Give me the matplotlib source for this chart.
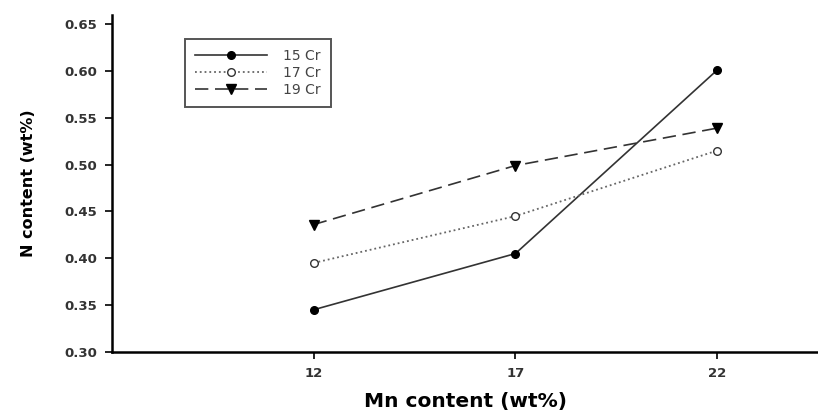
import matplotlib.pyplot as plt

# Mn content on x, N content for each Cr level
mn = [12, 17, 22]
cr15 = [0.345, 0.405, 0.601]
cr17 = [0.395, 0.445, 0.515]
cr19 = [0.436, 0.499, 0.539]
series_labels = ['15 Cr', '17 Cr', '19 Cr']
y_ticks = [0.30, 0.35, 0.40, 0.45, 0.50, 0.55, 0.60, 0.65]

fig = plt.figure(figsize=(8.18, 4.12), dpi=100)
ax = fig.add_axes([0.137, 0.146, 0.863, 0.818])

ax.plot(mn, cr15, '-', color='#333333', lw=1.2, marker='o', ms=5.5,
        mfc='black', mec='black', label=series_labels[0])
ax.plot(mn, cr17, ':', color='#666666', lw=1.3, marker='o', ms=5.5,
        mfc='white', mec='#333333', label=series_labels[1])
ax.plot(mn, cr19, '--', color='#333333', lw=1.2, dashes=(8, 4), marker='v', ms=6.5,
        mfc='black', mec='black', label=series_labels[2])

ax.set_xlim(7.0, 24.5)
ax.set_ylim(0.30, 0.66)
ax.set_xticks(mn)
ax.set_yticks(y_ticks)
ax.set_yticklabels(['%.2f' % v for v in y_ticks])

for side in ['top', 'right']:
    ax.spines[side].set_visible(False)
ax.spines['left'].set_linewidth(1.8)
ax.spines['bottom'].set_linewidth(1.8)
ax.tick_params(direction='out', length=5, width=1.2, labelsize=9.5, pad=6)
for t in ax.get_xticklabels() + ax.get_yticklabels():
    t.set_fontweight('bold')
    t.set_color('#333333')

ax.set_xlabel('Mn content (wt%)', fontsize=14.5, fontweight='bold', va='center')
ax.set_ylabel('N content (wt%)', fontsize=11.5, fontweight='bold', va='center')
ax.xaxis.set_label_coords(0.501, -0.148)
ax.yaxis.set_label_coords(-0.119, 0.5)

leg = ax.legend(loc='upper left', bbox_to_anchor=(0.103, 0.929), fontsize=10,
                fancybox=False, edgecolor='#555555', framealpha=1,
                handlelength=5.2, handletextpad=1.1, borderpad=0.75,
                borderaxespad=0, labelspacing=0.2)
leg.get_frame().set_linewidth(1.4)
for t in leg.get_texts():
    t.set_color('#444444')

fig.savefig('out.png', dpi=100)
